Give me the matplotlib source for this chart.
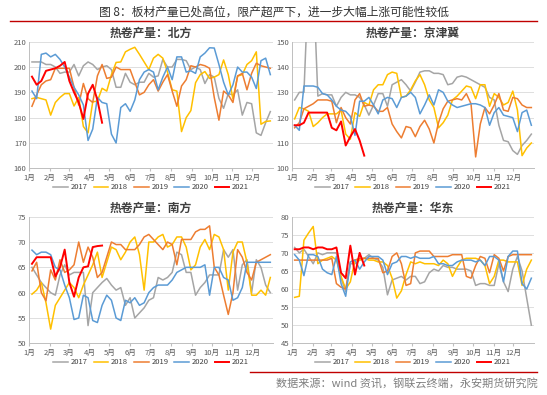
import matplotlib
matplotlib.use("Agg")
import matplotlib.pyplot as plt
from matplotlib.lines import Line2D

plt.rcParams['font.family'] = ['Noto Sans CJK SC', 'DejaVu Sans']

years = ['2017', '2018', '2019', '2020', '2021']
colors = ['#A5A5A5', '#FFC000', '#ED7D31', '#5B9BD5', '#FF0000']
month_labels = ['1月', '2月', '3月', '4月', '5月', '6月', '7月', '8月', '9月', '10月', '11月', '12月']
month_starts = [0, 31, 59, 90, 120, 151, 181, 212, 243, 273, 304, 334]

# ---------- 北方 ----------
north_2017 = [202, 202, 202, 201, 201, 200, 197.5, 198, 198, 201, 196.5, 200.5, 202, 201, 199, 200,
              200.5, 199, 192, 192, 197.5, 194, 193, 194, 194, 197.5, 196, 196.5, 203, 200, 200, 203,
              203, 202.5, 199, 200, 199, 193.5, 197, 196, 187.6, 183.7, 189.5, 189, 191, 181, 186, 185.5,
              174, 173, 178, 182.4]
north_2018 = [187.5, 188, 187.5, 187, 181, 186, 188, 189.5, 189.5, 184.6, 188, 176.5, 174, 186.3, 186.5, 191.6,
              190.5, 197, 201.8, 202, 206, 207, 207.8, 205, 202, 199, 203.5, 205, 203.5, 198, 191, 190.5,
              174.5, 180, 182.8, 193.8, 197, 198.2, 195.5, 196, 197, 202.8, 197, 187.4, 196.4, 197, 201, 202.5,
              206, 177.4, 178.5, 178.7]
north_2019 = [184.5, 189, 193, 194.5, 195, 199.5, 199.5, 199.5, 199.5, 192, 185, 193.5, 187.5, 186, 196.5, 201,
              195.5, 196, 200, 199, 199, 199, 194, 189, 190, 193, 195, 190.5, 194, 197, 190.5, 184.5,
              192.5, 195, 200.5, 200, 201, 200.5, 199.5, 188, 179, 190.5, 189, 186, 196.5, 197.5, 191, 197.5,
              201.5, 200.5, 200, 199.5]
north_2020 = [190.5, 187.5, 205, 205.5, 204, 205, 203, 200, 196, 192, 189, 185, 171, 175.5, 188, 186,
              185.5, 173.5, 170, 184, 185.5, 182.5, 187, 195, 198, 199, 198, 191, 196, 200, 195, 204,
              204, 198, 198.5, 197.5, 204, 205.5, 207.6, 207.5, 201, 194, 189, 193, 200, 198, 198, 196,
              191.5, 202.5, 203.5, 197]
north_2021 = [196.2, 193, 194.5, 198.5, 199, 199.5, 200.5, 202, 194.5, 190, 186, 179.5, 189.5, 193, 187, 178]

# ---------- 京津冀 ----------
jjj_2017 = [127, 130, 130, 175, 175, 128.5, 129.5, 129, 129, 124.5, 128, 130, 129, 129, 128, 125,
            121, 125, 129.5, 129.5, 124.5, 133, 134, 135, 133, 130.5, 134, 138, 138.5, 138.5, 137.5, 137.5,
            137, 133, 133.5, 136, 136.5, 136, 135, 134, 133, 132, 128, 127, 117, 111, 110.5, 107,
            105.5, 109, 111, 113.5]
jjj_2018 = [119.5, 124, 123.5, 122.5, 116.5, 118, 120, 121.5, 121.5, 121.5, 123, 113.5, 111.5, 122, 120.5, 126,
            125, 131, 133, 133, 137, 138, 137.5, 128, 128.5, 131, 134.5, 137, 133, 127, 124, 116,
            118, 121, 127, 128.5, 130.5, 132.5, 132, 127.5, 133, 133, 124.5, 129.5, 128, 125, 126, 130.5,
            123, 105, 108, 110]
jjj_2019 = [116, 118, 123.5, 124.5, 125.5, 127, 127, 127, 126.5, 118, 124, 120, 117.5, 127, 129.5, 124.5,
            125, 124.5, 122.5, 122.5, 124, 117.5, 114.5, 112, 116.5, 116, 112.5, 116.5, 119, 115.5, 110, 118,
            123.5, 126.5, 127, 127.5, 127, 129.5, 125.5, 104.5, 117.5, 124, 121.5, 125, 129.5, 123, 122.5, 128,
            127.5, 125, 124, 124]
jjj_2020 = [117, 115, 132.5, 132.5, 132.5, 132, 129.5, 129, 127, 124.5, 123, 122.5, 120.5, 113, 126.5, 126.5,
            128, 125, 121.5, 127, 128, 127.5, 124, 128, 128.5, 130, 128, 121.5, 125, 129, 125, 131,
            130, 126.5, 125, 124, 124.5, 125, 125.5, 125.5, 125, 124, 117, 122, 124, 121, 120.5, 120,
            114.5, 122, 123, 117]
jjj_2021 = [117, 117, 118, 122, 122, 122, 122, 122, 116, 115, 118.5, 109, 112.5, 115.5, 111, 105]

# ---------- 南方 ----------
south_2017 = [65, 63.5, 62, 61, 60, 59.5, 63.5, 65.5, 63.5, 64, 64, 64, 53.5, 60, 61, 62,
              62.8, 61.5, 60.5, 61, 57.5, 59, 55, 56, 57, 58.5, 59, 63, 62.5, 63, 64, 68,
              67.5, 64, 64, 59.5, 61, 62, 63.5, 63.5, 63.5, 68.5, 67, 68.5, 60.5, 65.5, 66.5, 60,
              66.5, 65, 61.5, 60]
south_2018 = [59.7, 60.5, 62, 58, 52.8, 57.5, 59, 60.5, 62, 61, 59, 61.5, 63.5, 65.5, 68, 63,
              66, 69, 68.5, 66.5, 68, 70, 71, 67.5, 60.5, 70, 70, 71, 71.5, 69, 69.5, 71,
              71, 69, 64.5, 65.5, 69, 70.5, 68.5, 71.5, 71, 68.5, 60.5, 68, 70, 70, 66, 59.5,
              59.5, 60.5, 59.5, 63]
south_2019 = [64.3, 66, 60, 58.4, 64.5, 62.5, 66.5, 64, 64.5, 65.5, 70, 66, 69, 67, 63, 64,
              67, 70, 69.5, 69.5, 68.5, 68.5, 68.5, 69.5, 71, 71.5, 70.5, 69.5, 68.5, 70, 69.5, 65.5,
              70.5, 70.5, 70.5, 72, 72.5, 72.5, 73.2, 65, 63.5, 59.5, 55.7, 60, 68.5, 67, 64, 62.5,
              66, 66.5, 67, 67.5]
south_2020 = [68.4, 67.5, 68, 68, 67.5, 65, 64.5, 61.5, 59, 54.7, 55, 59.5, 59, 54.5, 54.1, 57.5,
              59.5, 58.5, 55, 54.5, 58.5, 58, 59, 57.5, 58, 60, 61, 61.5, 61.5, 61.5, 62.5, 64,
              64.5, 65, 65, 65, 65, 65.5, 59.5, 65, 65, 63, 62.5, 58.5, 59, 61, 66, 66,
              66, 66, 66, 66]
south_2021 = [65.7, 67, 67, 67, 67, 63.2, 65, 68.5, 62, 59.2, 63, 65, 65.2, 69, 69.2, 69.3]

# ---------- 华东 ----------
east_2017 = [71.5, 70, 71, 69, 67, 70, 69.5, 70, 70, 70, 63, 59.3, 67, 67, 68, 68.5,
             69.5, 68.5, 68, 66, 58.4, 62.5, 63, 63.5, 62.5, 63.5, 63.5, 61.5, 62, 64.5, 65.5, 65,
             66.5, 66, 66, 65.5, 65.5, 65.5, 65, 61, 61.5, 61.5, 61, 61, 67, 62, 59.3, 65.5,
             69, 65, 57.5, 50]
east_2018 = [57.7, 58, 73.5, 75.5, 77.3, 67, 68, 68.5, 69, 68, 63.5, 60, 62, 68, 68, 68.5,
             68, 68, 67.5, 67.5, 66.5, 63, 57.5, 59.5, 64, 67.5, 67, 67.5, 67, 67, 67, 66.5,
             68, 67, 63.5, 66, 68, 68.5, 68.5, 68.5, 68, 66.5, 61.5, 63.5, 68, 68, 67.5, 67.5,
             67.5, 61, 65.5, 68]
east_2019 = [68, 68, 68, 68, 68, 68, 68, 68, 68.5, 61.5, 60.5, 60, 67.5, 68, 68.5, 68.5,
             68.5, 68.5, 68.5, 64.5, 65, 69, 70, 67, 61, 61.5, 70, 70.5, 70.5, 70.5, 69, 69,
             69, 69, 69.5, 69.5, 69.5, 63.5, 63, 66.5, 69, 68.5, 64.5, 69.5, 68.5, 65, 69, 69.5,
             69.5, 69.5, 69.5, 69.5]
east_2020 = [69.5, 68, 63.7, 69.5, 69.5, 69, 65.5, 64.5, 64, 69, 61.5, 58, 67.5, 68, 65.5, 67.5,
             69, 69, 69, 68, 64, 67, 67.5, 69, 69, 68.5, 69, 68.5, 68.5, 68.5, 69, 67,
             67, 66.5, 66.5, 67.5, 68, 68, 68, 67.5, 68, 66.5, 69, 69, 68, 62, 69, 70.5,
             70.5, 61.5, 60, 63]
east_2021 = [71, 71, 71.5, 71.5, 71, 71.5, 71.5, 71, 71, 71.5, 64.5, 63, 72, 64, 70, 66.5]

panels = [
    ('热卷产量：北方', [north_2017, north_2018, north_2019, north_2020, north_2021], (160, 210, 10)),
    ('热卷产量：京津冀', [jjj_2017, jjj_2018, jjj_2019, jjj_2020, jjj_2021], (100, 150, 10)),
    ('热卷产量：南方', [south_2017, south_2018, south_2019, south_2020, south_2021], (50, 75, 5)),
    ('热卷产量：华东', [east_2017, east_2018, east_2019, east_2020, east_2021], (45, 80, 5)),
]

W, H = 547, 395
fig = plt.figure(figsize=(W / 100, H / 100), dpi=100)

boxes = [(29.3, 273, 41.7, 168.3), (292, 534, 41.7, 168.3),
         (29.3, 273, 216.7, 343.3), (292, 534, 216.7, 343.3)]

for (title, series, (ymin, ymax, step)), (x0, x1, yt, yb) in zip(panels, boxes):
    ax = fig.add_axes([x0 / W, 1 - yb / H, (x1 - x0) / W, (yb - yt) / H])
    for yr, vals, c in zip(years, series, colors):
        days = [4 + 7 * i for i in range(len(vals))]
        lw = 1.4 if yr == '2021' else 1.1
        ax.plot(days, vals, color=c, lw=lw, label=yr, zorder=3 if yr == '2021' else 2)
    ax.set_xlim(0, 365)
    ax.set_ylim(ymin, ymax)
    ax.set_yticks(list(range(ymin, ymax + 1, step)))
    ax.set_xticks(month_starts)
    ax.set_xticklabels(month_labels)
    ax.tick_params(axis='both', labelsize=5.5, colors='#595959', length=0, pad=2)
    ax.tick_params(axis='x', length=2, color='#BFBFBF')
    ax.grid(axis='y', color='#D9D9D9', lw=0.6)
    ax.set_axisbelow(True)
    for s in ['top', 'right']:
        ax.spines[s].set_visible(False)
    for s in ['left', 'bottom']:
        ax.spines[s].set_color('#BFBFBF')
        ax.spines[s].set_linewidth(0.7)
    ax.set_title(title, fontsize=8.5, fontweight='bold', color='#404040', pad=4)
    leg = ax.legend(loc='center', bbox_to_anchor=(0.5, -0.15), ncol=5, frameon=False,
                    fontsize=5.5, handlelength=1.9, columnspacing=0.8, handletextpad=0.35)
    for t in leg.get_texts():
        t.set_color('#404040')

fig.text(0.5, 1 - 12 / H, '图 8：板材产量已处高位，限产超严下，进一步大幅上涨可能性较低',
         ha='center', va='center', fontsize=8.5, color='#333333')
fig.add_artist(Line2D([10 / W, 537 / W], [1 - 21 / H, 1 - 21 / H], color='#C00000', lw=1.0))
fig.add_artist(Line2D([250 / W, 537 / W], [1 - 372 / H, 1 - 372 / H], color='#C00000', lw=1.0))
fig.text(538 / W, 1 - 383 / H, '数据来源：wind 资讯，钢联云终端，永安期货研究院',
         ha='right', va='center', fontsize=8, color='#7F7F7F')

fig.savefig('out.png', dpi=100)
